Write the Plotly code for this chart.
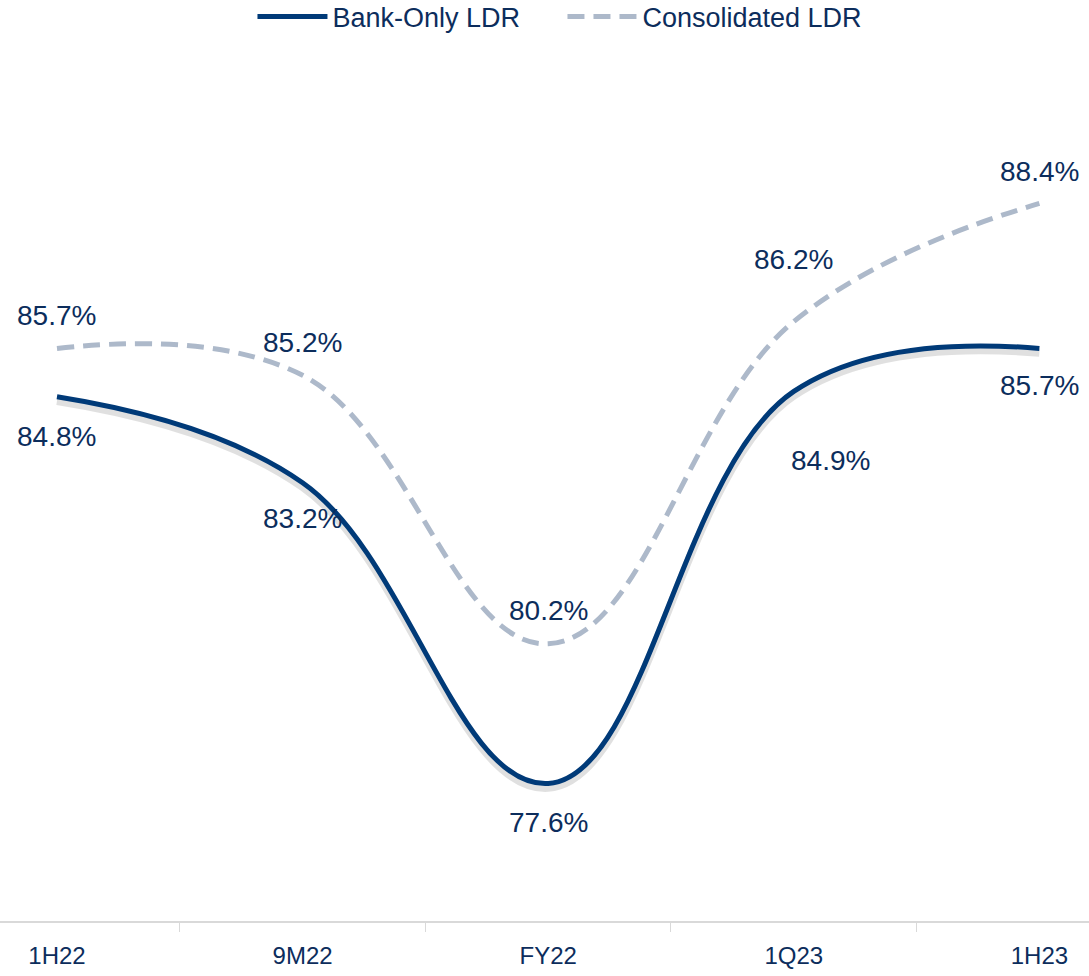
import plotly.graph_objects as go

categories = ["1H22", "9M22", "FY22", "1Q23", "1H23"]
bank_only = [84.8, 83.2, 77.6, 84.9, 85.7]
consolidated = [85.7, 85.2, 80.2, 86.2, 88.4]

NAVY = "#003A78"
TEXT = "#0C2D5C"
GREY = "#ADB9CA"
FONT = "Arial, Liberation Sans, sans-serif"
SMOOTH = 1.15

fig = go.Figure()

# consolidated (dashed)
fig.add_trace(go.Scatter(
    x=categories, y=consolidated, name="Consolidated LDR", mode="lines",
    line=dict(color=GREY, width=5, dash="17px,9px", shape="spline", smoothing=SMOOTH),
))
# soft shadow for bank-only line
fig.add_trace(go.Scatter(
    x=categories, y=[v - 0.08 for v in bank_only], mode="lines", showlegend=False,
    hoverinfo="skip",
    line=dict(color="rgba(0,0,0,0.12)", width=8, shape="spline", smoothing=SMOOTH),
))
fig.add_trace(go.Scatter(
    x=categories, y=bank_only, name="Bank-Only LDR", mode="lines",
    line=dict(color=NAVY, width=5, shape="spline", smoothing=SMOOTH),
))

# data labels
bank_shift = [(0, -40), (0, -36), (0, -39), (37, -69), (0, -37)]
cons_shift = [(0, 33), (0, 33), (0, 33), (0, 62), (0, 32)]
for c, v, (dx, dy) in zip(categories, bank_only, bank_shift):
    fig.add_annotation(x=c, y=v, text=f"{v:.1f}%", showarrow=False,
                       xshift=dx, yshift=dy, font=dict(family=FONT, size=28, color=TEXT))
for c, v, (dx, dy) in zip(categories, consolidated, cons_shift):
    fig.add_annotation(x=c, y=v, text=f"{v:.1f}%", showarrow=False,
                       xshift=dx, yshift=dy, font=dict(family=FONT, size=28, color=TEXT))

fig.update_layout(
    width=1089, height=976,
    margin=dict(l=0, r=0, t=60, b=55, autoexpand=False),
    paper_bgcolor="white", plot_bgcolor="white",
    font=dict(family=FONT, color=TEXT),
    legend=dict(orientation="h", x=0.5165, xanchor="center", y=1.0499, yanchor="middle",
                traceorder="reversed", entrywidth=225,
                font=dict(family=FONT, size=27, color=TEXT), itemwidth=70,
                bgcolor="rgba(0,0,0,0)"),
    xaxis=dict(type="category", range=[-0.232, 4.202], showgrid=False, zeroline=False,
               showline=True, linecolor="#D9D9D9", linewidth=2,
               ticks="outside", tickson="boundaries", ticklen=9, tickcolor="#D9D9D9",
               tickwidth=1, ticklabelstandoff=12,
               tickfont=dict(family=FONT, size=24, color=TEXT)),
    yaxis=dict(range=[75.04, 91.07], visible=False, showgrid=False, zeroline=False),
)

fig.write_html("out.html")
